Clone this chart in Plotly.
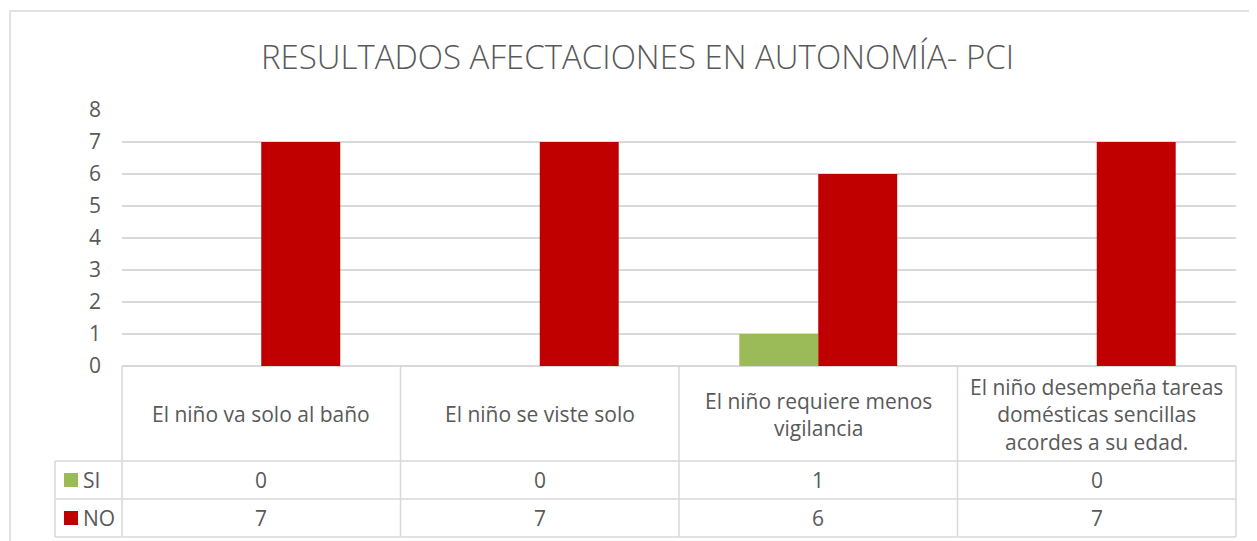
import plotly.graph_objects as go

categories = [
    "El niño va solo al baño",
    "El niño se viste solo",
    "El niño requiere menos<br>vigilancia",
    "El niño desempeña tareas<br>domésticas sencillas<br>acordes a su edad.",
]
series_names = ["SI", "NO"]
si_values = [0, 0, 1, 0]
no_values = [7, 7, 6, 7]
series_values = [si_values, no_values]
series_colors = ["#9BBB59", "#C00000"]
title_text = "RESULTADOS AFECTACIONES EN AUTONOMÍA- PCI"
y_ticks = [0, 1, 2, 3, 4, 5, 6, 7, 8]

OFF = 8  # page body margin
W, H = 1257 - OFF, 541 - OFF
# plot area in screen pixels
L, R, T, B = 122, 1236, 110, 366
pw, ph = R - L, B - T

def px_x(p):
    return (p - L) / pw

def px_y(p):
    return (B - p) / ph

TXT = "#595959"
LINE = "#D9D9D9"
FONT = "Open Sans"
FS = 21

fig = go.Figure()
for name, vals, col in zip(series_names, series_values, series_colors):
    fig.add_trace(go.Bar(x=list(range(len(categories))), y=vals, name=name,
                         marker=dict(color=col, line=dict(width=0))))

n = len(categories)
shapes = []
annotations = []

row_tops = [366, 461, 499, 537]
legend_left = 55
for yy in row_tops[1:]:
    shapes.append(dict(type="line", xref="paper", yref="paper",
                       x0=px_x(legend_left), x1=1, y0=px_y(yy), y1=px_y(yy),
                       line=dict(color=LINE, width=1.5)))
for i in range(n + 1):
    xp = i / n
    shapes.append(dict(type="line", xref="paper", yref="paper",
                       x0=xp, x1=xp, y0=px_y(366), y1=px_y(537),
                       line=dict(color=LINE, width=1.5)))
shapes.append(dict(type="line", xref="paper", yref="paper",
                   x0=px_x(legend_left), x1=px_x(legend_left),
                   y0=px_y(461), y1=px_y(537), line=dict(color=LINE, width=1.5)))
shapes.append(dict(type="rect", xref="paper", yref="paper",
                   x0=px_x(10), x1=px_x(1290), y0=px_y(590), y1=px_y(11),
                   line=dict(color=LINE, width=1.5), layer="below"))

for i, c in enumerate(categories):
    annotations.append(dict(xref="paper", yref="paper", x=(i + 0.5) / n,
                            y=px_y(414), text=c, showarrow=False,
                            xanchor="center", yanchor="middle",
                            font=dict(family=FONT, size=FS, color=TXT)))
for r, (name, vals, col) in enumerate(zip(series_names, series_values, series_colors)):
    yc = (row_tops[r + 1] + row_tops[r + 2]) / 2
    shapes.append(dict(type="rect", xref="paper", yref="paper",
                       x0=px_x(64), x1=px_x(78), y0=px_y(yc - 7), y1=px_y(yc + 7),
                       fillcolor=col, line=dict(width=0)))
    annotations.append(dict(xref="paper", yref="paper", x=px_x(81), y=px_y(yc),
                            text=name, showarrow=False, xanchor="left",
                            yanchor="middle",
                            font=dict(family=FONT, size=FS, color=TXT)))
    for i, v in enumerate(vals):
        annotations.append(dict(xref="paper", yref="paper", x=(i + 0.5) / n,
                                y=px_y(yc), text=str(v), showarrow=False,
                                xanchor="center", yanchor="middle",
                                font=dict(family=FONT, size=FS, color=TXT)))

fig.update_layout(
    width=W, height=H,
    margin=dict(l=L - OFF, r=W + OFF - R, t=T - OFF, b=H + OFF - B),
    paper_bgcolor="white", plot_bgcolor="white",
    barmode="group", bargap=0.433, bargroupgap=0,
    showlegend=False,
    title=dict(text=title_text, x=(637.5 - OFF) / W, xref="container",
               xanchor="center",
               y=1 - (57 - OFF) / H, yanchor="middle",
               font=dict(family=FONT, size=33, color=TXT, weight=300)),
    xaxis=dict(range=[-0.5, n - 0.5], showticklabels=False, showgrid=False,
               zeroline=False, showline=False, fixedrange=True),
    yaxis=dict(range=[0, 8], tickvals=y_ticks, showgrid=True, gridcolor=LINE,
               gridwidth=1.5, zeroline=True, zerolinecolor=LINE, zerolinewidth=1.5,
               showline=False, ticklabelstandoff=20,
               tickfont=dict(family=FONT, size=FS, color=TXT)),
    shapes=shapes, annotations=annotations,
)

fig.write_html("out.html")
